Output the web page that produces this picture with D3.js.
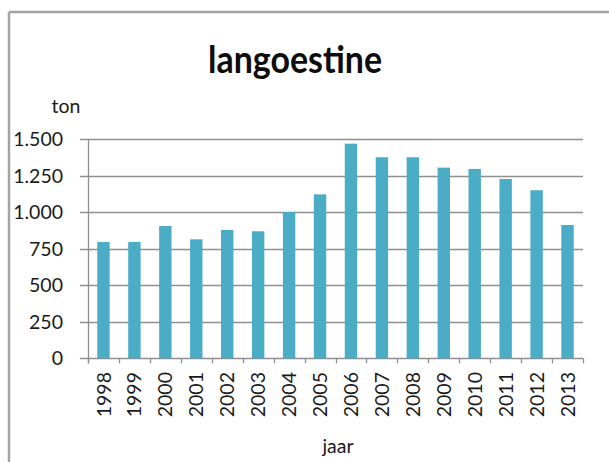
<!DOCTYPE html>
<html><head><meta charset="utf-8">
<script src="https://cdn.jsdelivr.net/npm/d3@7"></script>
<style>body{margin:0;background:#fff}svg{display:block}</style>
</head><body>
<svg id="c" width="609" height="462"></svg>
<script>
const years = ["1998","1999","2000","2001","2002","2003","2004","2005","2006","2007","2008","2009","2010","2011","2012","2013"];
const values = [797, 797, 906, 815, 879, 870, 1002, 1123, 1470, 1377, 1377, 1306, 1297, 1228, 1151, 913];
const yTicks = [0, 250, 500, 750, 1000, 1250, 1500];
const title = "langoestine";
const yLabel = "ton";
const xLabel = "jaar";

const svg = d3.select("#c");
const font = "Lato, 'Open Sans', sans-serif";
const grey = "#8f8f8f";
const txt = "#1a1a1a";
const fs = 19.5;

// frame
svg.append("line").attr("x1",9).attr("x2",609).attr("y1",12).attr("y2",12).attr("stroke","#a3a3a3").attr("stroke-width",2.5);
svg.append("line").attr("x1",9).attr("x2",9).attr("y1",12).attr("y2",462).attr("stroke","#a3a3a3").attr("stroke-width",2.5);

const x = d3.scaleBand().domain(years).range([88, 583]).paddingInner(0).paddingOuter(0);
const y = d3.scaleLinear().domain([0,1500]).range([358.3, 139.3]);

// gridlines
svg.append("g").selectAll("line").data(yTicks).join("line")
  .attr("x1",80).attr("x2",583).attr("y1",d=>Math.round(y(d))+0.5).attr("y2",d=>Math.round(y(d))+0.5)
  .attr("stroke",grey).attr("stroke-width",1.3);

// y axis line
svg.append("line").attr("x1",88.5).attr("x2",88.5).attr("y1",y(1500)).attr("y2",y(0)+5).attr("stroke",grey).attr("stroke-width",1.3);

// x ticks
const bounds = years.map(d=>x(d)).concat([583]);
svg.append("g").selectAll("line").data(bounds).join("line")
  .attr("x1",d=>Math.round(d)+0.5).attr("x2",d=>Math.round(d)+0.5)
  .attr("y1",y(0)).attr("y2",y(0)+5).attr("stroke",grey).attr("stroke-width",1.3);

// bars
const bw = 12.4;
svg.append("g").selectAll("rect").data(values).join("rect")
  .attr("x",(d,i)=>x(years[i])+x.bandwidth()/2-bw/2)
  .attr("width",bw)
  .attr("y",d=>y(d))
  .attr("height",d=>y(0)-y(d))
  .attr("fill","#4bacc6");

// y tick labels
const fmt = v => d3.format(",")(v).replace(/,/g,".");
svg.append("g").selectAll("text").data(yTicks).join("text")
  .attr("x",63).attr("y",d=>y(d)).attr("dy","0.36em")
  .attr("text-anchor","end").attr("font-family",font).attr("font-size",fs).attr("fill",txt)
  .text(fmt);

// x tick labels
svg.append("g").selectAll("text").data(years).join("text")
  .attr("transform",d=>`translate(${x(d)+x.bandwidth()/2},372) rotate(-90)`)
  .attr("dy","0.36em")
  .attr("text-anchor","end").attr("font-family",font).attr("font-size",fs).attr("fill",txt)
  .text(d=>d);

// title
svg.append("text").attr("x",295).attr("y",73).attr("text-anchor","middle")
  .attr("font-family",font).attr("font-weight","bold").attr("font-size",38).attr("fill","#0d0d0d")
  .attr("textLength",174).attr("lengthAdjust","spacingAndGlyphs")
  .text(title);

svg.append("text").attr("x",66).attr("y",113).attr("text-anchor","middle")
  .attr("font-family",font).attr("font-size",fs).attr("fill",txt).text(yLabel);

svg.append("text").attr("x",338).attr("y",453).attr("text-anchor","middle")
  .attr("font-family",font).attr("font-size",fs).attr("fill",txt).text(xLabel);
</script>
</body></html>
